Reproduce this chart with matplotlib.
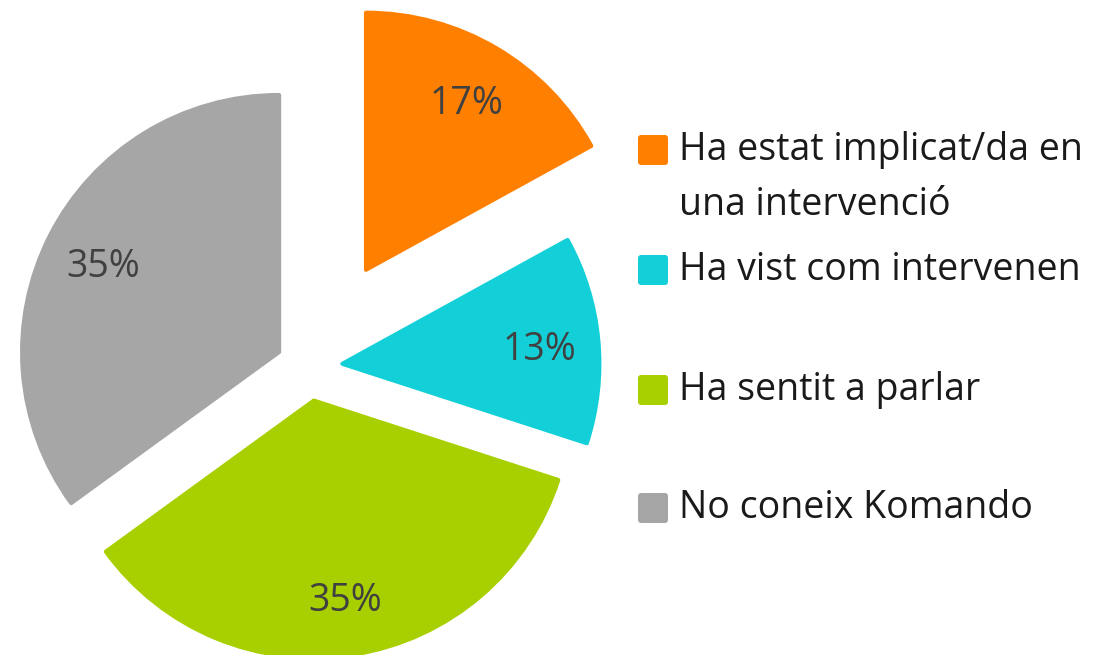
import numpy as np
from matplotlib import pyplot as plt
from matplotlib.patches import FancyBboxPatch

labels = ['Ha estat implicat/da en\nuna intervenció', 'Ha vist com intervenen',
          'Ha sentit a parlar', 'No coneix Komando']
values = [17, 13, 35, 35]
colors = ['#FF8000', '#13D0D8', '#A8CF00', '#A6A6A6']
# explode offsets, in pixels (pie radius is in pixels too)
explode = [113, 34, 34, 33]

W, H = 1103, 655
plt.rcParams['font.family'] = ['Open Sans', 'DejaVu Sans']

fig = plt.figure(figsize=(W / 100, H / 100), dpi=100)
ax = fig.add_axes([0, 0, 1, 1])

# pixel-like coords, y down as negative
radius = 257
center = (308.5, -367)
wedges, texts, autotexts = ax.pie(
    values, colors=colors, explode=explode, startangle=90, counterclock=False,
    radius=radius, center=center, autopct='%1.0f%%', pctdistance=0.77,
    wedgeprops=dict(linewidth=3, joinstyle='round'),
    textprops=dict(fontsize=27, color='#404040'))
for w, c in zip(wedges, colors):
    w.set_edgecolor(c)
for t in autotexts:
    t.set_verticalalignment('center_baseline')

ax.set_xlim(0, W)
ax.set_ylim(-H, 0)
ax.set_aspect('equal')
ax.axis('off')

# legend drawn by hand so the swatch sits on the first text line
rows_y = [150, 270, 390, 508]
for lab, col, y in zip(labels, colors, rows_y):
    sq = FancyBboxPatch((638, -y - 15), 30, 30, boxstyle='round,pad=0,rounding_size=3',
                        facecolor=col, edgecolor='none')
    ax.add_patch(sq)
    for i, line in enumerate(lab.split('\n')):
        ax.text(679, -y - 55 * i, line, fontsize=27, color='#1a1a1a', va='center', ha='left')

fig.savefig('out.png', dpi=100, facecolor='white')
